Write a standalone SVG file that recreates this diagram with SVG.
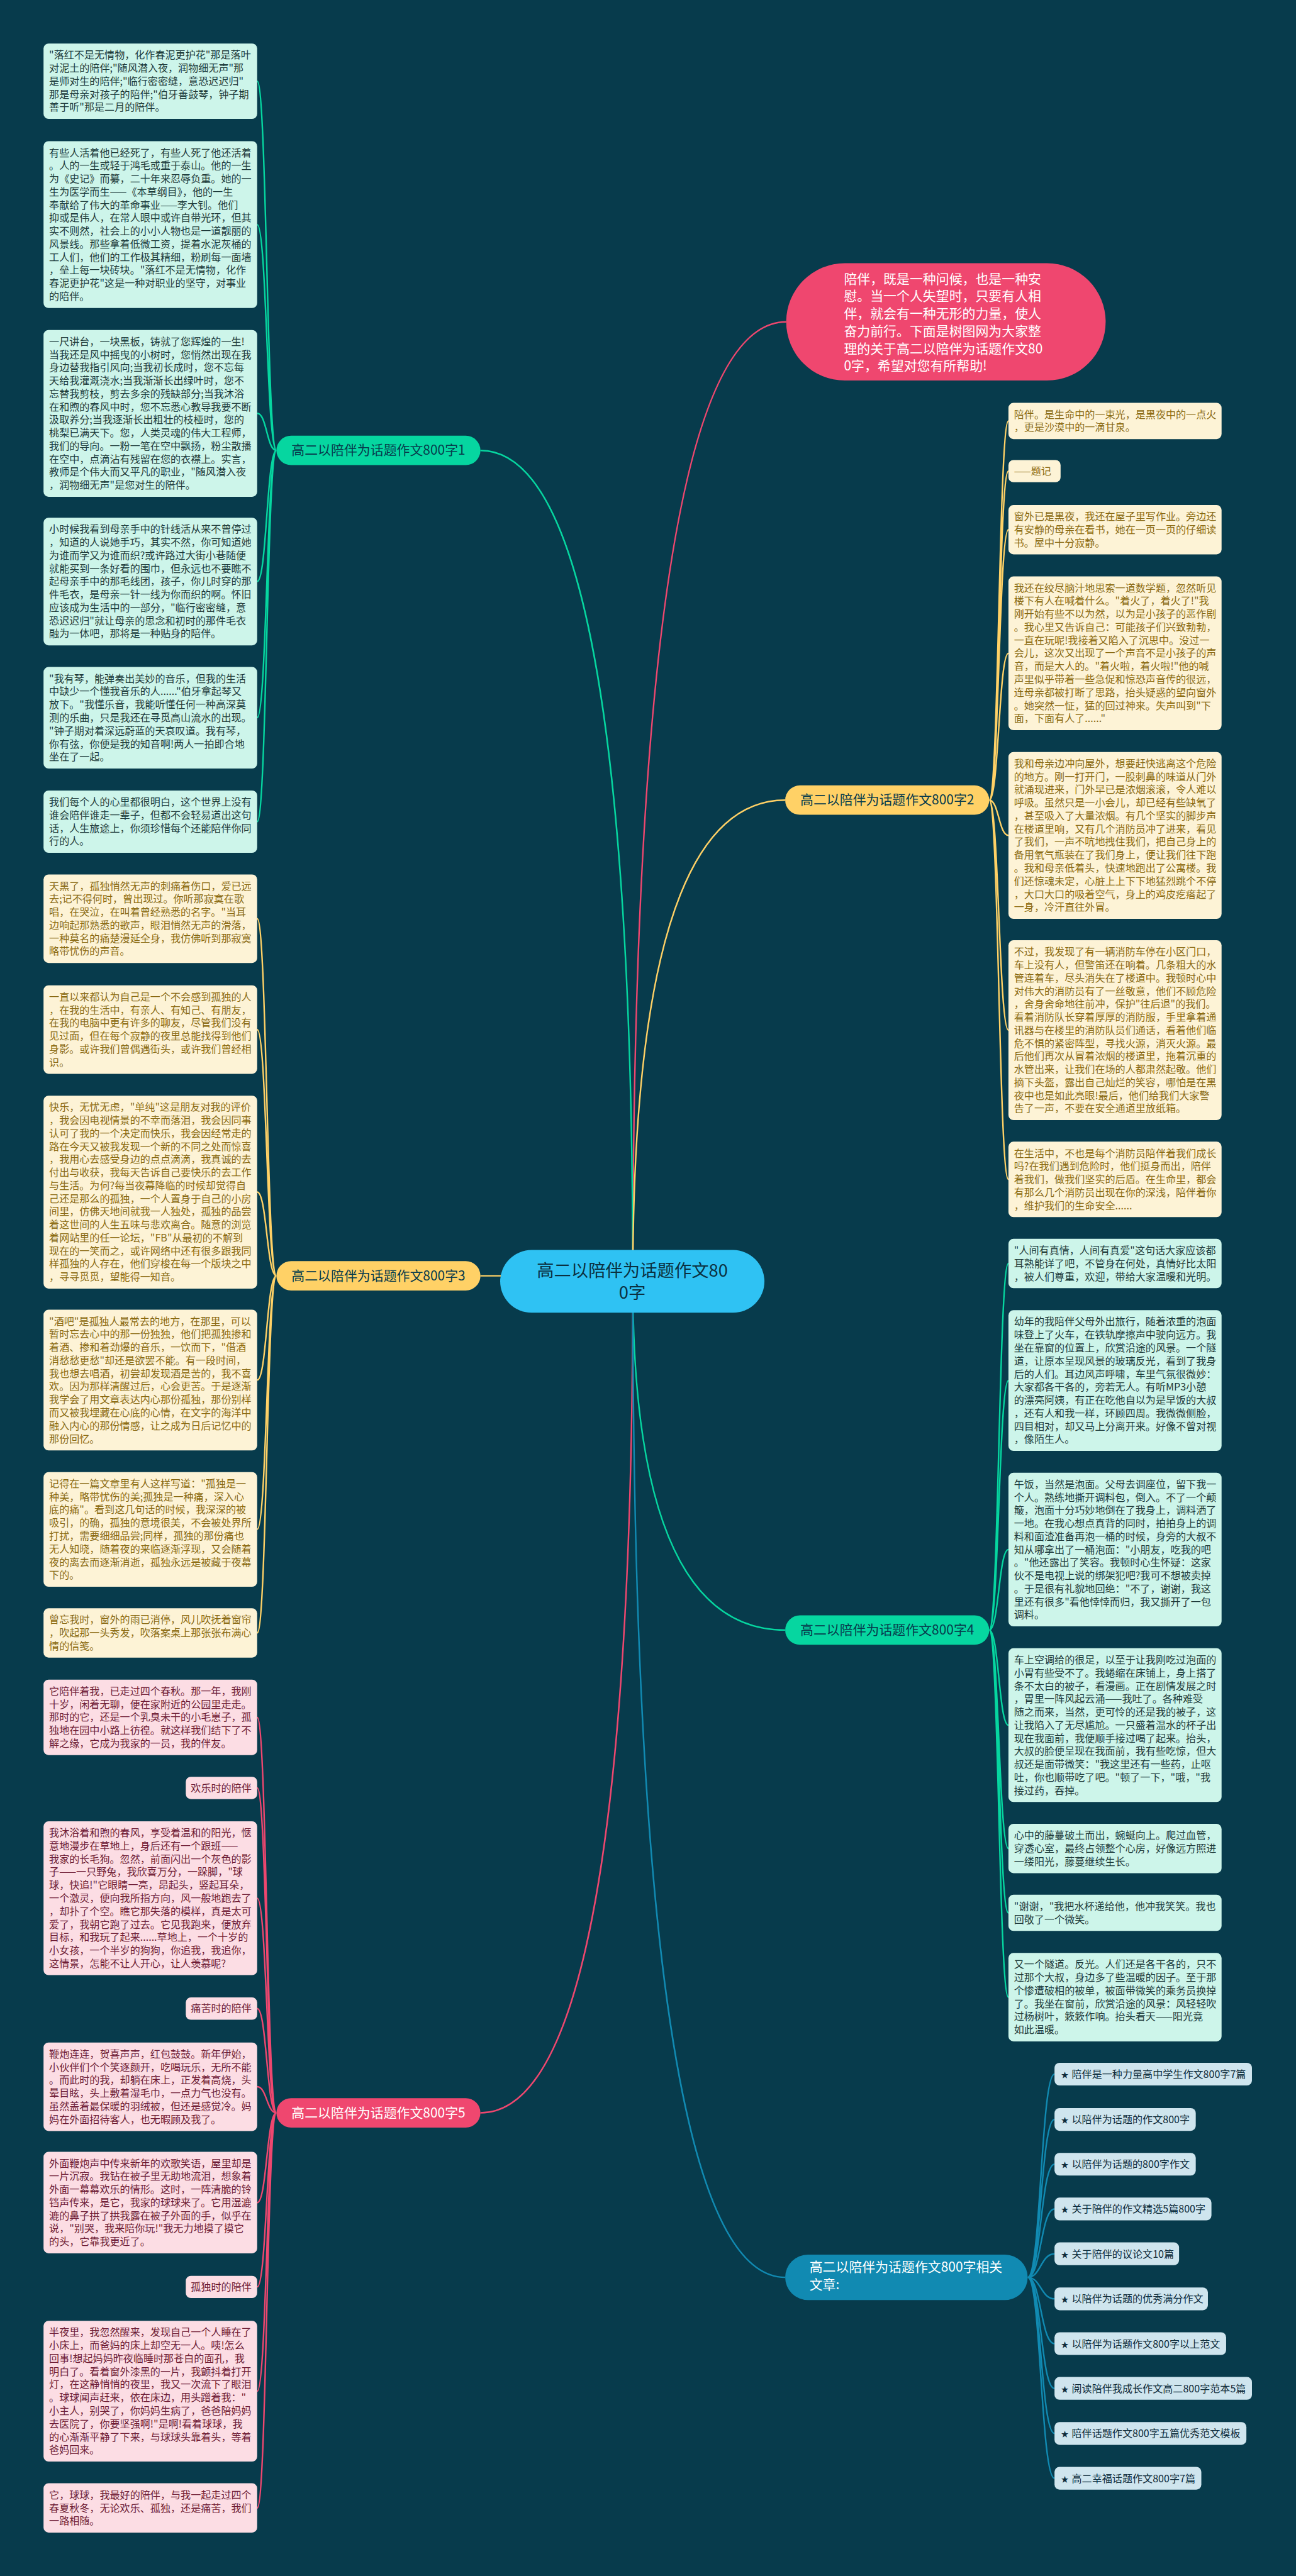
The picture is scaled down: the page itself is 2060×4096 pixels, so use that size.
<svg xmlns="http://www.w3.org/2000/svg" width="2060" height="4096" viewBox="0 0 2060 4096">
<style>
text{font-family:"Noto Sans CJK SC","Noto Sans",sans-serif}
.lf{font-size:20px}
.g{fill:#cdf5ea}.y{fill:#fdf3d6}.p{fill:#fcdde4}.b{fill:#cfe5ee}
.tg{fill:#1d3a3a}.ty{fill:#8a6a12}.tp{fill:#6e1c35}.tb{fill:#0d2b3a}
.c{fill:none;stroke-width:3}
.cg{stroke:#06d6a0}.cy{stroke:#ffd166}.cp{stroke:#ef476f}.cb{stroke:#118ab2}
.pill{font-size:26px;text-anchor:middle}
.rel{font-size:20px}
.star{font-size:15px}
</style>
<rect width="2060" height="4096" fill="#073b4c"/>
<g transform="scale(0.8046875)">
<g id="connectors">
<path class="c cp" d="M1250,2532 C1250,996 1400,636 1553,636"/>
<path class="c cg" d="M1250,2532 C1250,1202 1100,890 949,890"/>
<path class="c cy" d="M1250,2521 L949,2521"/>
<path class="c cp" d="M1250,2532 C1250,3863 1100,4175 949,4175"/>
<path class="c cy" d="M1250,2532 C1250,1762 1400,1581 1551,1581"/>
<path class="c cg" d="M1250,2532 C1250,3090 1400,3221 1551,3221"/>
<path class="c cb" d="M1250,2532 C1250,4126 1400,4500 1551,4500"/>
<path class="c cg" d="M546,890 C527,890 527,160.5 508,160.5 M546,890 C527,890 527,443.8 508,443.8 M546,890 C527,890 527,816.8 508,816.8 M546,890 C527,890 527,1149 508,1149 M546,890 C527,890 527,1418 508,1418 M546,890 C527,890 527,1623.6 508,1623.6"/>
<path class="c cy" d="M546,2521 C527,2521 527,1815.4 508,1815.4 M546,2521 C527,2521 527,2034.4 508,2034.4 M546,2521 C527,2521 527,2355.6 508,2355.6 M546,2521 C527,2521 527,2727 508,2727 M546,2521 C527,2521 527,3022 508,3022 M546,2521 C527,2521 527,3226.7 508,3226.7"/>
<path class="c cp" d="M546,4175 C527,4175 527,3393.5 508,3393.5 M546,4175 C527,4175 527,3533 508,3533 M546,4175 C527,4175 527,3751 508,3751 M546,4175 C527,4175 527,3969 508,3969 M546,4175 C527,4175 527,4123.4 508,4123.4 M546,4175 C527,4175 527,4352.3 508,4352.3 M546,4175 C527,4175 527,4519 508,4519 M546,4175 C527,4175 527,4725 508,4725 M546,4175 C527,4175 527,4955.7 508,4955.7"/>
<path class="c cy" d="M1954,1581 C1973,1581 1973,831.8 1992,831.8 M1954,1581 C1973,1581 1973,931 1992,931 M1954,1581 C1973,1581 1973,1046.7 1992,1046.7 M1954,1581 C1973,1581 1973,1291 1992,1291 M1954,1581 C1973,1581 1973,1650.8 1992,1650.8 M1954,1581 C1973,1581 1973,2035.7 1992,2035.7 M1954,1581 C1973,1581 1973,2330.5 1992,2330.5"/>
<path class="c cg" d="M1954,3221 C1973,3221 1973,2496.7 1992,2496.7 M1954,3221 C1973,3221 1973,2728 1992,2728 M1954,3221 C1973,3221 1973,3061.9 1992,3061.9 M1954,3221 C1973,3221 1973,3408.9 1992,3408.9 M1954,3221 C1973,3221 1973,3652.7 1992,3652.7 M1954,3221 C1973,3221 1973,3779.8 1992,3779.8 M1954,3221 C1973,3221 1973,3946.4 1992,3946.4"/>
<path class="c cb" d="M2030,4500 C2056,4500 2056,4098.5 2083,4098.5 M2030,4500 C2056,4500 2056,4188 2083,4188 M2030,4500 C2056,4500 2056,4276.5 2083,4276.5 M2030,4500 C2056,4500 2056,4365 2083,4365 M2030,4500 C2056,4500 2056,4453.5 2083,4453.5 M2030,4500 C2056,4500 2056,4542.5 2083,4542.5 M2030,4500 C2056,4500 2056,4631 2083,4631 M2030,4500 C2056,4500 2056,4719.5 2083,4719.5 M2030,4500 C2056,4500 2056,4808.5 2083,4808.5 M2030,4500 C2056,4500 2056,4897 2083,4897"/>
</g>

<g id="center">
<rect x="988" y="2470" width="522" height="124" rx="62" fill="#2fc2f3"/>
<text x="1249" y="2523" font-size="34" text-anchor="middle" fill="#0b3040">高二以陪伴为话题作文80<tspan x="1249" dy="43">0字</tspan></text>
</g>

<g id="intro">
<rect x="1553" y="520" width="631" height="232" rx="116" fill="#ef476f"/>
<text x="1667" y="560" font-size="26" fill="#ffffff">陪伴，既是一种问候，也是一种安<tspan x="1667" dy="34.5">慰。当一个人失望时，只要有人相</tspan><tspan x="1667" dy="34.5">伴，就会有一种无形的力量，使人</tspan><tspan x="1667" dy="34.5">奋力前行。下面是树图网为大家整</tspan><tspan x="1667" dy="34.5">理的关于高二以陪伴为话题作文80</tspan><tspan x="1667" dy="34.5">0字，希望对您有所帮助!</tspan></text>
</g>

<g id="b1"><rect x="546" y="861" width="403" height="58" rx="29" fill="#06d6a0"/><text class="pill" x="747.5" y="899" fill="#073b4c">高二以陪伴为话题作文800字1</text></g>
<g id="b3"><rect x="546" y="2492" width="403" height="58" rx="29" fill="#ffd166"/><text class="pill" x="747.5" y="2530" fill="#073b4c">高二以陪伴为话题作文800字3</text></g>
<g id="b5"><rect x="546" y="4146" width="403" height="58" rx="29" fill="#ef476f"/><text class="pill" x="747.5" y="4184" fill="#ffffff">高二以陪伴为话题作文800字5</text></g>
<g id="b2"><rect x="1551" y="1552" width="403" height="58" rx="29" fill="#ffd166"/><text class="pill" x="1752.5" y="1590" fill="#073b4c">高二以陪伴为话题作文800字2</text></g>
<g id="b4"><rect x="1551" y="3192" width="403" height="58" rx="29" fill="#06d6a0"/><text class="pill" x="1752.5" y="3230" fill="#073b4c">高二以陪伴为话题作文800字4</text></g>
<g id="brel"><rect x="1551" y="4455" width="479" height="90" rx="45" fill="#118ab2"/><text x="1599" y="4489" font-size="26" fill="#ffffff">高二以陪伴为话题作文800字相关<tspan x="1599" dy="34">文章:</tspan></text></g>

<g id="L1"><rect class="g" x="86" y="86" width="422" height="149" rx="10"/><text class="lf tg" x="97" y="116">"落红不是无情物，化作春泥更护花"那是落叶<tspan x="97" dy="25.8">对泥土的陪伴;"随风潜入夜，润物细无声"那</tspan><tspan x="97" dy="25.8">是师对生的陪伴;"临行密密缝，意恐迟迟归"</tspan><tspan x="97" dy="25.8">那是母亲对孩子的陪伴;"伯牙善鼓琴，钟子期</tspan><tspan x="97" dy="25.8">善于听"那是二月的陪伴。</tspan></text></g>
<g id="L2"><rect class="g" x="86" y="279" width="422" height="329.6" rx="10"/><text class="lf tg" x="97" y="309">有些人活着他已经死了，有些人死了他还活着<tspan x="97" dy="25.8">。人的一生或轻于鸿毛或重于泰山。他的一生</tspan><tspan x="97" dy="25.8">为《史记》而纂，二十年来忍辱负重。她的一</tspan><tspan x="97" dy="25.8">生为医学而生——《本草纲目》，他的一生</tspan><tspan x="97" dy="25.8">奉献给了伟大的革命事业——李大钊。他们</tspan><tspan x="97" dy="25.8">抑或是伟人，在常人眼中或许自带光环，但其</tspan><tspan x="97" dy="25.8">实不则然，社会上的小小人物也是一道靓丽的</tspan><tspan x="97" dy="25.8">风景线。那些拿着低微工资，提着水泥灰桶的</tspan><tspan x="97" dy="25.8">工人们，他们的工作极其精细，粉刷每一面墙</tspan><tspan x="97" dy="25.8">，垒上每一块砖块。"落红不是无情物，化作</tspan><tspan x="97" dy="25.8">春泥更护花"这是一种对职业的坚守，对事业</tspan><tspan x="97" dy="25.8">的陪伴。</tspan></text></g>
<g id="L3"><rect class="g" x="86" y="652" width="422" height="329.6" rx="10"/><text class="lf tg" x="97" y="682">一尺讲台，一块黑板，铸就了您辉煌的一生!<tspan x="97" dy="25.8">当我还是风中摇曳的小树时，您悄然出现在我</tspan><tspan x="97" dy="25.8">身边替我指引风向;当我初长成时，您不忘每</tspan><tspan x="97" dy="25.8">天给我灌溉浇水;当我渐渐长出绿叶时，您不</tspan><tspan x="97" dy="25.8">忘替我剪枝，剪去多余的残缺部分;当我沐浴</tspan><tspan x="97" dy="25.8">在和煦的春风中时，您不忘悉心教导我要不断</tspan><tspan x="97" dy="25.8">汲取养分;当我逐渐长出粗壮的枝桠时，您的</tspan><tspan x="97" dy="25.8">桃梨已满天下。您，人类灵魂的伟大工程师，</tspan><tspan x="97" dy="25.8">我们的导向。一粉一笔在空中飘扬，粉尘散播</tspan><tspan x="97" dy="25.8">在空中，点滴沾有残留在您的衣襟上。实言，</tspan><tspan x="97" dy="25.8">教师是个伟大而又平凡的职业，"随风潜入夜</tspan><tspan x="97" dy="25.8">，润物细无声"是您对生的陪伴。</tspan></text></g>
<g id="L4"><rect class="g" x="86" y="1023" width="422" height="252.2" rx="10"/><text class="lf tg" x="97" y="1053">小时候我看到母亲手中的针线活从来不曾停过<tspan x="97" dy="25.8">，知道的人说她手巧，其实不然，你可知道她</tspan><tspan x="97" dy="25.8">为谁而学又为谁而织?或许路过大街小巷随便</tspan><tspan x="97" dy="25.8">就能买到一条好看的围巾，但永远也不要瞧不</tspan><tspan x="97" dy="25.8">起母亲手中的那毛线团，孩子，你儿时穿的那</tspan><tspan x="97" dy="25.8">件毛衣，是母亲一针一线为你而织的啊。怀旧</tspan><tspan x="97" dy="25.8">应该成为生活中的一部分，"临行密密缝，意</tspan><tspan x="97" dy="25.8">恐迟迟归"就让母亲的思念和初时的那件毛衣</tspan><tspan x="97" dy="25.8">融为一体吧，那将是一种贴身的陪伴。</tspan></text></g>
<g id="L5"><rect class="g" x="86" y="1318" width="422" height="200.6" rx="10"/><text class="lf tg" x="97" y="1348">"我有琴，能弹奏出美妙的音乐，但我的生活<tspan x="97" dy="25.8">中缺少一个懂我音乐的人......"伯牙拿起琴又</tspan><tspan x="97" dy="25.8">放下。"我懂乐音，我能听懂任何一种高深莫</tspan><tspan x="97" dy="25.8">测的乐曲，只是我还在寻觅高山流水的出现。</tspan><tspan x="97" dy="25.8">"钟子期对着深远蔚蓝的天哀叹道。我有琴，</tspan><tspan x="97" dy="25.8">你有弦，你便是我的知音啊!两人一拍即合地</tspan><tspan x="97" dy="25.8">坐在了一起。</tspan></text></g>
<g id="L6"><rect class="g" x="86" y="1562" width="422" height="123.2" rx="10"/><text class="lf tg" x="97" y="1592">我们每个人的心里都很明白，这个世界上没有<tspan x="97" dy="25.8">谁会陪伴谁走一辈子，但都不会轻易道出这句</tspan><tspan x="97" dy="25.8">话，人生旅途上，你须珍惜每个还能陪伴你同</tspan><tspan x="97" dy="25.8">行的人。</tspan></text></g>

<g id="L7"><rect class="y" x="86" y="1728" width="422" height="174.8" rx="10"/><text class="lf ty" x="97" y="1758">天黑了，孤独悄然无声的刺痛着伤口，爱已远<tspan x="97" dy="25.8">去;记不得何时，曾出现过。你听那寂寞在歌</tspan><tspan x="97" dy="25.8">唱，在哭泣，在叫着曾经熟悉的名字。"当耳</tspan><tspan x="97" dy="25.8">边响起那熟悉的歌声，眼泪悄然无声的滑落，</tspan><tspan x="97" dy="25.8">一种莫名的痛楚漫延全身，我仿佛听到那寂寞</tspan><tspan x="97" dy="25.8">略带忧伤的声音。</tspan></text></g>
<g id="L8"><rect class="y" x="86" y="1947" width="422" height="174.8" rx="10"/><text class="lf ty" x="97" y="1977">一直以来都认为自己是一个不会感到孤独的人<tspan x="97" dy="25.8">，在我的生活中，有亲人、有知己、有朋友，</tspan><tspan x="97" dy="25.8">在我的电脑中更有许多的聊友，尽管我们没有</tspan><tspan x="97" dy="25.8">见过面，但在每个寂静的夜里总能找得到他们</tspan><tspan x="97" dy="25.8">身影。或许我们曾偶遇街头，或许我们曾经相</tspan><tspan x="97" dy="25.8">识。</tspan></text></g>
<g id="L9"><rect class="y" x="86" y="2165" width="422" height="381.2" rx="10"/><text class="lf ty" x="97" y="2195">快乐，无忧无虑，"单纯"这是朋友对我的评价<tspan x="97" dy="25.8">，我会因电视情景的不幸而落泪，我会因同事</tspan><tspan x="97" dy="25.8">认可了我的一个决定而快乐，我会因经常走的</tspan><tspan x="97" dy="25.8">路在今天又被我发现一个新的不同之处而惊喜</tspan><tspan x="97" dy="25.8">，我用心去感受身边的点点滴滴，我真诚的去</tspan><tspan x="97" dy="25.8">付出与收获，我每天告诉自己要快乐的去工作</tspan><tspan x="97" dy="25.8">与生活。为何?每当夜幕降临的时候却觉得自</tspan><tspan x="97" dy="25.8">己还是那么的孤独，一个人置身于自己的小房</tspan><tspan x="97" dy="25.8">间里，仿佛天地间就我一人独处，孤独的品尝</tspan><tspan x="97" dy="25.8">着这世间的人生五味与悲欢离合。随意的浏览</tspan><tspan x="97" dy="25.8">着网站里的任一论坛，"FB"从最初的不解到</tspan><tspan x="97" dy="25.8">现在的一笑而之，或许网络中还有很多跟我同</tspan><tspan x="97" dy="25.8">样孤独的人存在，他们穿梭在每一个版块之中</tspan><tspan x="97" dy="25.8">，寻寻觅觅，望能得一知音。</tspan></text></g>
<g id="L10"><rect class="y" x="86" y="2588" width="422" height="278" rx="10"/><text class="lf ty" x="97" y="2618">"酒吧"是孤独人最常去的地方，在那里，可以<tspan x="97" dy="25.8">暂时忘去心中的那一份独独，他们把孤独掺和</tspan><tspan x="97" dy="25.8">着酒、掺和着劲爆的音乐，一饮而下，"借酒</tspan><tspan x="97" dy="25.8">消愁愁更愁"却还是欲罢不能。有一段时间，</tspan><tspan x="97" dy="25.8">我也想去唱酒，初尝却发现酒是苦的，我不喜</tspan><tspan x="97" dy="25.8">欢。因为那样清醒过后，心会更苦。于是逐渐</tspan><tspan x="97" dy="25.8">我学会了用文章表达内心那份孤独，那份别样</tspan><tspan x="97" dy="25.8">而又被我埋藏在心底的心情，在文字的海洋中</tspan><tspan x="97" dy="25.8">融入内心的那份情感，让之成为日后记忆中的</tspan><tspan x="97" dy="25.8">那份回忆。</tspan></text></g>
<g id="L11"><rect class="y" x="86" y="2909" width="422" height="226.4" rx="10"/><text class="lf ty" x="97" y="2939">记得在一篇文章里有人这样写道："孤独是一<tspan x="97" dy="25.8">种美，略带忧伤的美;孤独是一种痛，深入心</tspan><tspan x="97" dy="25.8">底的痛"。看到这几句话的时候，我深深的被</tspan><tspan x="97" dy="25.8">吸引，的确，孤独的意境很美，不会被处界所</tspan><tspan x="97" dy="25.8">打扰，需要细细品尝;同样，孤独的那份痛也</tspan><tspan x="97" dy="25.8">无人知晓，随着夜的来临逐渐浮现，又会随着</tspan><tspan x="97" dy="25.8">夜的离去而逐渐消逝，孤独永远是被藏于夜幕</tspan><tspan x="97" dy="25.8">下的。</tspan></text></g>
<g id="L12"><rect class="y" x="86" y="3178" width="422" height="97.4" rx="10"/><text class="lf ty" x="97" y="3208">曾忘我时，窗外的雨已消停，风儿吹抚着窗帘<tspan x="97" dy="25.8">，吹起那一头秀发，吹落案桌上那张张布满心</tspan><tspan x="97" dy="25.8">情的信笺。</tspan></text></g>

<g id="L13"><rect class="p" x="86" y="3319" width="422" height="149" rx="10"/><text class="lf tp" x="97" y="3349">它陪伴着我，已走过四个春秋。那一年，我刚<tspan x="97" dy="25.8">十岁，闲着无聊，便在家附近的公园里走走。</tspan><tspan x="97" dy="25.8">那时的它，还是一个乳臭未干的小毛崽子，孤</tspan><tspan x="97" dy="25.8">独地在园中小路上彷徨。就这样我们结下了不</tspan><tspan x="97" dy="25.8">解之缘，它成为我家的一员，我的伴友。</tspan></text></g>
<g id="L14"><rect class="p" x="367" y="3511" width="141" height="44" rx="10"/><text class="lf tp" x="377" y="3540">欢乐时的陪伴</text></g>
<g id="L15"><rect class="p" x="86" y="3599" width="422" height="303.8" rx="10"/><text class="lf tp" x="97" y="3629">我沐浴着和煦的春风，享受着温和的阳光，惬<tspan x="97" dy="25.8">意地漫步在草地上，身后还有一个跟班——</tspan><tspan x="97" dy="25.8">我家的长毛狗。忽然，前面闪出一个灰色的影</tspan><tspan x="97" dy="25.8">子——一只野兔，我欣喜万分，一跺脚，"球</tspan><tspan x="97" dy="25.8">球，快追!"它眼睛一亮，昂起头，竖起耳朵，</tspan><tspan x="97" dy="25.8">一个激灵，便向我所指方向，风一般地跑去了</tspan><tspan x="97" dy="25.8">，却扑了个空。瞧它那失落的模样，真是太可</tspan><tspan x="97" dy="25.8">爱了，我朝它跑了过去。它见我跑来，便放弃</tspan><tspan x="97" dy="25.8">目标，和我玩了起来......草地上，一个十岁的</tspan><tspan x="97" dy="25.8">小女孩，一个半岁的狗狗，你追我，我追你，</tspan><tspan x="97" dy="25.8">这情景，怎能不让人开心，让人羡慕呢?</tspan></text></g>
<g id="L16"><rect class="p" x="367" y="3947" width="141" height="44" rx="10"/><text class="lf tp" x="377" y="3976">痛苦时的陪伴</text></g>
<g id="L17"><rect class="p" x="86" y="4036" width="422" height="174.8" rx="10"/><text class="lf tp" x="97" y="4066">鞭炮连连，贺喜声声，红包鼓鼓。新年伊始，<tspan x="97" dy="25.8">小伙伴们个个笑逐颜开，吃喝玩乐，无所不能</tspan><tspan x="97" dy="25.8">。而此时的我，却躺在床上，正发着高烧，头</tspan><tspan x="97" dy="25.8">晕目眩，头上敷着湿毛巾，一点力气也没有。</tspan><tspan x="97" dy="25.8">虽然盖着最保暖的羽绒被，但还是感觉冷。妈</tspan><tspan x="97" dy="25.8">妈在外面招待客人，也无暇顾及我了。</tspan></text></g>
<g id="L18"><rect class="p" x="86" y="4252" width="422" height="200.6" rx="10"/><text class="lf tp" x="97" y="4282">外面鞭炮声中传来新年的欢歌笑语，屋里却是<tspan x="97" dy="25.8">一片沉寂。我钻在被子里无助地流泪，想象着</tspan><tspan x="97" dy="25.8">外面一幕幕欢乐的情形。这时，一阵清脆的铃</tspan><tspan x="97" dy="25.8">铛声传来，是它，我家的球球来了。它用湿漉</tspan><tspan x="97" dy="25.8">漉的鼻子拱了拱我露在被子外面的手，似乎在</tspan><tspan x="97" dy="25.8">说，"别哭，我来陪你玩!"我无力地摸了摸它</tspan><tspan x="97" dy="25.8">的头，它靠我更近了。</tspan></text></g>
<g id="L19"><rect class="p" x="367" y="4497" width="141" height="44" rx="10"/><text class="lf tp" x="377" y="4526">孤独时的陪伴</text></g>
<g id="L20"><rect class="p" x="86" y="4586" width="422" height="278" rx="10"/><text class="lf tp" x="97" y="4616">半夜里，我忽然醒来，发现自己一个人睡在了<tspan x="97" dy="25.8">小床上，而爸妈的床上却空无一人。咦!怎么</tspan><tspan x="97" dy="25.8">回事!想起妈妈昨夜临睡时那苍白的面孔，我</tspan><tspan x="97" dy="25.8">明白了。看着窗外漆黑的一片，我颤抖着打开</tspan><tspan x="97" dy="25.8">灯，在这静悄悄的夜里，我又一次流下了眼泪</tspan><tspan x="97" dy="25.8">。球球闻声赶来，依在床边，用头蹭着我："</tspan><tspan x="97" dy="25.8">小主人，别哭了，你妈妈生病了，爸爸陪妈妈</tspan><tspan x="97" dy="25.8">去医院了，你要坚强啊!"是啊!看着球球，我</tspan><tspan x="97" dy="25.8">的心渐渐平静了下来，与球球头靠着头，等着</tspan><tspan x="97" dy="25.8">爸妈回来。</tspan></text></g>
<g id="L21"><rect class="p" x="86" y="4907" width="422" height="97.4" rx="10"/><text class="lf tp" x="97" y="4937">它，球球，我最好的陪伴，与我一起走过四个<tspan x="97" dy="25.8">春夏秋冬，无论欢乐、孤独，还是痛苦，我们</tspan><tspan x="97" dy="25.8">一路相随。</tspan></text></g>

<g id="R1"><rect class="y" x="1992" y="796" width="421" height="71.6" rx="10"/><text class="lf ty" x="2003" y="826">陪伴。是生命中的一束光，是黑夜中的一点火<tspan x="2003" dy="25.8">，更是沙漠中的一滴甘泉。</tspan></text></g>
<g id="R2"><rect class="y" x="1992" y="909" width="103" height="44" rx="10"/><text class="lf ty" x="2003" y="938">——题记</text></g>
<g id="R3"><rect class="y" x="1992" y="998" width="421" height="97.4" rx="10"/><text class="lf ty" x="2003" y="1028">窗外已是黑夜，我还在屋子里写作业。旁边还<tspan x="2003" dy="25.8">有安静的母亲在看书，她在一页一页的仔细读</tspan><tspan x="2003" dy="25.8">书。屋中十分寂静。</tspan></text></g>
<g id="R4"><rect class="y" x="1992" y="1139" width="421" height="303.8" rx="10"/><text class="lf ty" x="2003" y="1169">我还在绞尽脑汁地思索一道数学题，忽然听见<tspan x="2003" dy="25.8">楼下有人在喊着什么。"着火了，着火了!"我</tspan><tspan x="2003" dy="25.8">刚开始有些不以为然，以为是小孩子的恶作剧</tspan><tspan x="2003" dy="25.8">。我心里又告诉自己：可能孩子们兴致勃勃，</tspan><tspan x="2003" dy="25.8">一直在玩呢!我接着又陷入了沉思中。没过一</tspan><tspan x="2003" dy="25.8">会儿，这次又出现了一个声音不是小孩子的声</tspan><tspan x="2003" dy="25.8">音，而是大人的。"着火啦，着火啦!"他的喊</tspan><tspan x="2003" dy="25.8">声里似乎带着一些急促和惊恐声音传的很远，</tspan><tspan x="2003" dy="25.8">连母亲都被打断了思路，抬头疑惑的望向窗外</tspan><tspan x="2003" dy="25.8">。她突然一怔，猛的回过神来。失声叫到"下</tspan><tspan x="2003" dy="25.8">面，下面有人了......"</tspan></text></g>
<g id="R5"><rect class="y" x="1992" y="1486" width="421" height="329.6" rx="10"/><text class="lf ty" x="2003" y="1516">我和母亲边冲向屋外，想要赶快逃离这个危险<tspan x="2003" dy="25.8">的地方。刚一打开门，一股刺鼻的味道从门外</tspan><tspan x="2003" dy="25.8">就涌现进来，门外早已是浓烟滚滚，令人难以</tspan><tspan x="2003" dy="25.8">呼吸。虽然只是一小会儿，却已经有些缺氧了</tspan><tspan x="2003" dy="25.8">，甚至吸入了大量浓烟。有几个坚实的脚步声</tspan><tspan x="2003" dy="25.8">在楼道里响，又有几个消防员冲了进来，看见</tspan><tspan x="2003" dy="25.8">了我们，一声不吭地拽住我们，把自己身上的</tspan><tspan x="2003" dy="25.8">备用氧气瓶装在了我们身上，便让我们往下跑</tspan><tspan x="2003" dy="25.8">。我和母亲低着头，快速地跑出了公寓楼。我</tspan><tspan x="2003" dy="25.8">们还惊魂未定，心脏上上下下地猛烈跳个不停</tspan><tspan x="2003" dy="25.8">，大口大口的吸着空气，身上的鸡皮疙瘩起了</tspan><tspan x="2003" dy="25.8">一身，冷汗直往外冒。</tspan></text></g>
<g id="R6"><rect class="y" x="1992" y="1858" width="421" height="355.4" rx="10"/><text class="lf ty" x="2003" y="1888">不过，我发现了有一辆消防车停在小区门口，<tspan x="2003" dy="25.8">车上没有人，但警笛还在响着。几条粗大的水</tspan><tspan x="2003" dy="25.8">管连着车，尽头消失在了楼道中。我顿时心中</tspan><tspan x="2003" dy="25.8">对伟大的消防员有了一丝敬意，他们不顾危险</tspan><tspan x="2003" dy="25.8">，舍身舍命地往前冲，保护"往后退"的我们。</tspan><tspan x="2003" dy="25.8">看着消防队长穿着厚厚的消防服，手里拿着通</tspan><tspan x="2003" dy="25.8">讯器与在楼里的消防队员们通话，看着他们临</tspan><tspan x="2003" dy="25.8">危不惧的紧密阵型，寻找火源，消灭火源。最</tspan><tspan x="2003" dy="25.8">后他们再次从冒着浓烟的楼道里，拖着沉重的</tspan><tspan x="2003" dy="25.8">水管出来，让我们在场的人都肃然起敬。他们</tspan><tspan x="2003" dy="25.8">摘下头盔，露出自己灿烂的笑容，哪怕是在黑</tspan><tspan x="2003" dy="25.8">夜中也是如此亮眼!最后，他们给我们大家警</tspan><tspan x="2003" dy="25.8">告了一声，不要在安全通道里放纸箱。</tspan></text></g>
<g id="R7"><rect class="y" x="1992" y="2256" width="421" height="149" rx="10"/><text class="lf ty" x="2003" y="2286">在生活中，不也是每个消防员陪伴着我们成长<tspan x="2003" dy="25.8">吗?在我们遇到危险时，他们挺身而出，陪伴</tspan><tspan x="2003" dy="25.8">着我们，做我们坚实的后盾。在生命里，都会</tspan><tspan x="2003" dy="25.8">有那么几个消防员出现在你的深浅，陪伴着你</tspan><tspan x="2003" dy="25.8">，维护我们的生命安全......</tspan></text></g>

<g id="R8"><rect class="g" x="1992" y="2448" width="421" height="97.4" rx="10"/><text class="lf tg" x="2003" y="2478">"人间有真情，人间有真爱"这句话大家应该都<tspan x="2003" dy="25.8">耳熟能详了吧，不管身在何处，真情好比太阳</tspan><tspan x="2003" dy="25.8">，被人们尊重，欢迎，带给大家温暖和光明。</tspan></text></g>
<g id="R9"><rect class="g" x="1992" y="2589" width="421" height="278" rx="10"/><text class="lf tg" x="2003" y="2619">幼年的我陪伴父母外出旅行，随着浓重的泡面<tspan x="2003" dy="25.8">味登上了火车，在铁轨摩擦声中驶向远方。我</tspan><tspan x="2003" dy="25.8">坐在靠窗的位置上，欣赏沿途的风景。一个隧</tspan><tspan x="2003" dy="25.8">道，让原本呈现风景的玻璃反光，看到了我身</tspan><tspan x="2003" dy="25.8">后的人们。耳边风声呼啸，车里气氛很微妙：</tspan><tspan x="2003" dy="25.8">大家都各干各的，旁若无人。有听MP3小憩</tspan><tspan x="2003" dy="25.8">的漂亮阿姨，有正在吃他自以为是早饭的大叔</tspan><tspan x="2003" dy="25.8">，还有人和我一样，环顾四周。我微微侧脸，</tspan><tspan x="2003" dy="25.8">四目相对，却又马上分离开来。好像不曾对视</tspan><tspan x="2003" dy="25.8">，像陌生人。</tspan></text></g>
<g id="R10"><rect class="g" x="1992" y="2910" width="421" height="303.8" rx="10"/><text class="lf tg" x="2003" y="2940">午饭，当然是泡面。父母去调座位，留下我一<tspan x="2003" dy="25.8">个人。熟练地撕开调料包，倒入。不了一个颠</tspan><tspan x="2003" dy="25.8">簸，泡面十分巧妙地倒在了我身上，调料洒了</tspan><tspan x="2003" dy="25.8">一地。在我心想点真背的同时，拍拍身上的调</tspan><tspan x="2003" dy="25.8">料和面渣准备再泡一桶的时候，身旁的大叔不</tspan><tspan x="2003" dy="25.8">知从哪拿出了一桶泡面："小朋友，吃我的吧</tspan><tspan x="2003" dy="25.8">。"他还露出了笑容。我顿时心生怀疑：这家</tspan><tspan x="2003" dy="25.8">伙不是电视上说的绑架犯吧?我可不想被卖掉</tspan><tspan x="2003" dy="25.8">。于是很有礼貌地回绝："不了，谢谢，我这</tspan><tspan x="2003" dy="25.8">里还有很多"看他悻悻而归，我又撕开了一包</tspan><tspan x="2003" dy="25.8">调料。</tspan></text></g>
<g id="R11"><rect class="g" x="1992" y="3257" width="421" height="303.8" rx="10"/><text class="lf tg" x="2003" y="3287">车上空调给的很足，以至于让我刚吃过泡面的<tspan x="2003" dy="25.8">小胃有些受不了。我蜷缩在床铺上，身上搭了</tspan><tspan x="2003" dy="25.8">条不太白的被子，看漫画。正在剧情发展之时</tspan><tspan x="2003" dy="25.8">，胃里一阵风起云涌——我吐了。各种难受</tspan><tspan x="2003" dy="25.8">随之而来，当然，更可怜的还是我的被子，这</tspan><tspan x="2003" dy="25.8">让我陷入了无尽尴尬。一只盛着温水的杯子出</tspan><tspan x="2003" dy="25.8">现在我面前，我便顺手接过喝了起来。抬头，</tspan><tspan x="2003" dy="25.8">大叔的脸便呈现在我面前，我有些吃惊，但大</tspan><tspan x="2003" dy="25.8">叔还是面带微笑："我这里还有一些药，止呕</tspan><tspan x="2003" dy="25.8">吐，你也顺带吃了吧。"顿了一下，"哦，"我</tspan><tspan x="2003" dy="25.8">接过药，吞掉。</tspan></text></g>
<g id="R12"><rect class="g" x="1992" y="3604" width="421" height="97.4" rx="10"/><text class="lf tg" x="2003" y="3634">心中的藤蔓破土而出，蜿蜒向上。爬过血管，<tspan x="2003" dy="25.8">穿透心室，最终占领整个心房，好像远方照进</tspan><tspan x="2003" dy="25.8">一缕阳光，藤蔓继续生长。</tspan></text></g>
<g id="R13"><rect class="g" x="1992" y="3744" width="421" height="71.6" rx="10"/><text class="lf tg" x="2003" y="3774">"谢谢，"我把水杯递给他，他冲我笑笑。我也<tspan x="2003" dy="25.8">回敬了一个微笑。</tspan></text></g>
<g id="R14"><rect class="g" x="1992" y="3859" width="421" height="174.8" rx="10"/><text class="lf tg" x="2003" y="3889">又一个隧道。反光。人们还是各干各的，只不<tspan x="2003" dy="25.8">过那个大叔，身边多了些温暖的因子。至于那</tspan><tspan x="2003" dy="25.8">个惨遭破相的被单，被面带微笑的乘务员换掉</tspan><tspan x="2003" dy="25.8">了。我坐在窗前，欣赏沿途的风景：风轻轻吹</tspan><tspan x="2003" dy="25.8">过杨树叶，簌簌作响。抬头看天——阳光竟</tspan><tspan x="2003" dy="25.8">如此温暖。</tspan></text></g>

<g id="A1"><rect class="b" x="2083" y="4076" width="390" height="45" rx="10"/><text class="rel tb" x="2117" y="4106"><tspan class="star" x="2096">★</tspan><tspan x="2117">陪伴是一种力量高中学生作文800字7篇</tspan></text></g>
<g id="A2"><rect class="b" x="2083" y="4165.5" width="279" height="45" rx="10"/><text class="rel tb" x="2117" y="4195.5"><tspan class="star" x="2096">★</tspan><tspan x="2117">以陪伴为话题的作文800字</tspan></text></g>
<g id="A3"><rect class="b" x="2083" y="4254" width="279" height="45" rx="10"/><text class="rel tb" x="2117" y="4284"><tspan class="star" x="2096">★</tspan><tspan x="2117">以陪伴为话题的800字作文</tspan></text></g>
<g id="A4"><rect class="b" x="2083" y="4342.5" width="310" height="45" rx="10"/><text class="rel tb" x="2117" y="4372.5"><tspan class="star" x="2096">★</tspan><tspan x="2117">关于陪伴的作文精选5篇800字</tspan></text></g>
<g id="A5"><rect class="b" x="2083" y="4431" width="246" height="45" rx="10"/><text class="rel tb" x="2117" y="4461"><tspan class="star" x="2096">★</tspan><tspan x="2117">关于陪伴的议论文10篇</tspan></text></g>
<g id="A6"><rect class="b" x="2083" y="4520" width="303" height="45" rx="10"/><text class="rel tb" x="2117" y="4550"><tspan class="star" x="2096">★</tspan><tspan x="2117">以陪伴为话题的优秀满分作文</tspan></text></g>
<g id="A7"><rect class="b" x="2083" y="4608.5" width="339" height="45" rx="10"/><text class="rel tb" x="2117" y="4638.5"><tspan class="star" x="2096">★</tspan><tspan x="2117">以陪伴为话题作文800字以上范文</tspan></text></g>
<g id="A8"><rect class="b" x="2083" y="4697" width="390" height="45" rx="10"/><text class="rel tb" x="2117" y="4727"><tspan class="star" x="2096">★</tspan><tspan x="2117">阅读陪伴我成长作文高二800字范本5篇</tspan></text></g>
<g id="A9"><rect class="b" x="2083" y="4786" width="379" height="45" rx="10"/><text class="rel tb" x="2117" y="4816"><tspan class="star" x="2096">★</tspan><tspan x="2117">陪伴话题作文800字五篇优秀范文模板</tspan></text></g>
<g id="A10"><rect class="b" x="2083" y="4874.5" width="290" height="45" rx="10"/><text class="rel tb" x="2117" y="4904.5"><tspan class="star" x="2096">★</tspan><tspan x="2117">高二幸福话题作文800字7篇</tspan></text></g>
</g>
</svg>
